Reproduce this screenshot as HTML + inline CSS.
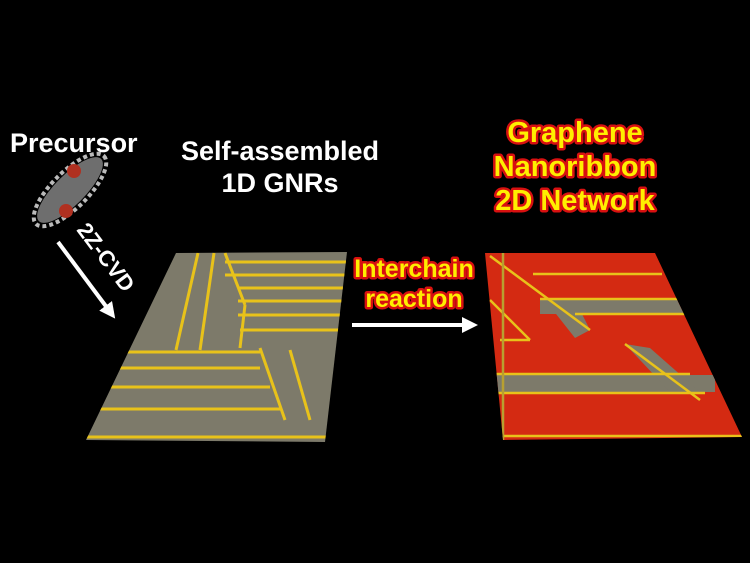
<!DOCTYPE html>
<html><head><meta charset="utf-8"><style>
html,body{margin:0;padding:0;background:#000;}
svg{display:block}
.w{font-family:"Liberation Sans",sans-serif;font-weight:bold;fill:#fff}
.r{font-family:"Liberation Sans",sans-serif;font-weight:bold;fill:#ffee00;stroke:#d81010;stroke-width:5;paint-order:stroke;stroke-linejoin:round}
</style></head><body>
<svg width="750" height="563" viewBox="0 0 750 563" xmlns="http://www.w3.org/2000/svg">
<defs>
<clipPath id="cl"><polygon points="176,253 347,252 325,442 86,440"/></clipPath>
<clipPath id="cr"><polygon points="485,253 655,253 742,437 503,440"/></clipPath>
<marker id="ah" markerWidth="4" markerHeight="4" refX="1" refY="2" orient="auto" markerUnits="strokeWidth"><path d="M0,0 L4,2 L0,4 z" fill="#fff"/></marker>
</defs>
<rect width="750" height="563" fill="#000"/>
<text class="w" x="10" y="152" font-size="27">Precursor</text>
<text class="w" x="280" y="160" font-size="27" text-anchor="middle">Self-assembled</text>
<text class="w" x="280" y="192" font-size="27" text-anchor="middle">1D GNRs</text>
<text class="r" x="575" y="142" font-size="29" text-anchor="middle">Graphene</text>
<text class="r" x="575" y="176" font-size="29" text-anchor="middle">Nanoribbon</text>
<text class="r" x="575" y="210" font-size="29" text-anchor="middle">2D Network</text>
<text class="r" x="414" y="277" font-size="25" text-anchor="middle">Interchain</text>
<text class="r" x="414" y="307" font-size="25" text-anchor="middle">reaction</text>
<!-- molecule -->
<g transform="translate(70,190) rotate(-45)">
<ellipse cx="0" cy="0" rx="44" ry="15" fill="#6e6e6e"/>
<ellipse cx="0" cy="0" rx="48" ry="18" fill="none" stroke="#bbb" stroke-width="4" stroke-dasharray="4 3"/>
</g>
<circle cx="74" cy="171" r="7" fill="#b03020"/>
<circle cx="66" cy="211" r="7" fill="#b03020"/>
<!-- arrows -->
<line x1="58" y1="242" x2="108" y2="309" stroke="#fff" stroke-width="4" marker-end="url(#ah)"/>
<text class="w" font-size="22" transform="translate(76,230) rotate(53)">2Z-CVD</text>
<line x1="352" y1="325" x2="466" y2="325" stroke="#fff" stroke-width="4" marker-end="url(#ah)"/>
<!-- left sheet -->
<g clip-path="url(#cl)">
<rect x="80" y="250" width="270" height="195" fill="#7d7a6a"/>
<g stroke="#e8c21a" stroke-width="3" fill="none">
<line x1="225" y1="262" x2="350" y2="262"/>
<line x1="225" y1="275" x2="350" y2="275"/>
<line x1="238" y1="288" x2="350" y2="288"/>
<line x1="238" y1="301" x2="350" y2="301"/>
<line x1="238" y1="315" x2="350" y2="315"/>
<line x1="240" y1="330" x2="350" y2="330"/>
<line x1="80" y1="352" x2="260" y2="352"/>
<line x1="80" y1="368" x2="260" y2="368"/>
<line x1="80" y1="387" x2="270" y2="387"/>
<line x1="80" y1="409" x2="282" y2="409"/>
<line x1="80" y1="437" x2="350" y2="437"/>
<line x1="198" y1="253" x2="176" y2="350"/>
<line x1="214" y1="253" x2="200" y2="350"/>
<line x1="225" y1="253" x2="245" y2="305" />
<line x1="245" y1="305" x2="240" y2="348"/>
<line x1="260" y1="348" x2="285" y2="420"/>
<line x1="290" y1="350" x2="310" y2="420"/>
</g>
</g>
<!-- right sheet -->
<g clip-path="url(#cr)">
<rect x="480" y="250" width="265" height="195" fill="#d42a12"/>
<rect x="540" y="300" width="210" height="14" fill="#7d7a6a"/>
<polygon points="545,300 575,300 590,330 575,338" fill="#7d7a6a"/>
<rect x="495" y="375" width="220" height="17" fill="#7d7a6a"/>
<polygon points="625,344 650,348 700,392 670,392" fill="#7d7a6a"/>
<g stroke="#e8c21a" stroke-width="2.5" fill="none">
<line x1="533" y1="274" x2="662" y2="274"/>
<line x1="540" y1="299" x2="680" y2="299"/>
<line x1="575" y1="314" x2="690" y2="314"/>
<line x1="495" y1="374" x2="690" y2="374"/>
<line x1="495" y1="393" x2="705" y2="393"/>
<line x1="495" y1="436" x2="745" y2="436"/>
<line x1="490" y1="256" x2="590" y2="330"/>
<line x1="490" y1="300" x2="530" y2="340"/>
<line x1="500" y1="340" x2="530" y2="340"/>
<line x1="625" y1="344" x2="700" y2="400"/>
<line x1="503" y1="253" x2="503" y2="440" stroke="#b8a030"/>
</g>
</g>
</svg>
</body></html>
